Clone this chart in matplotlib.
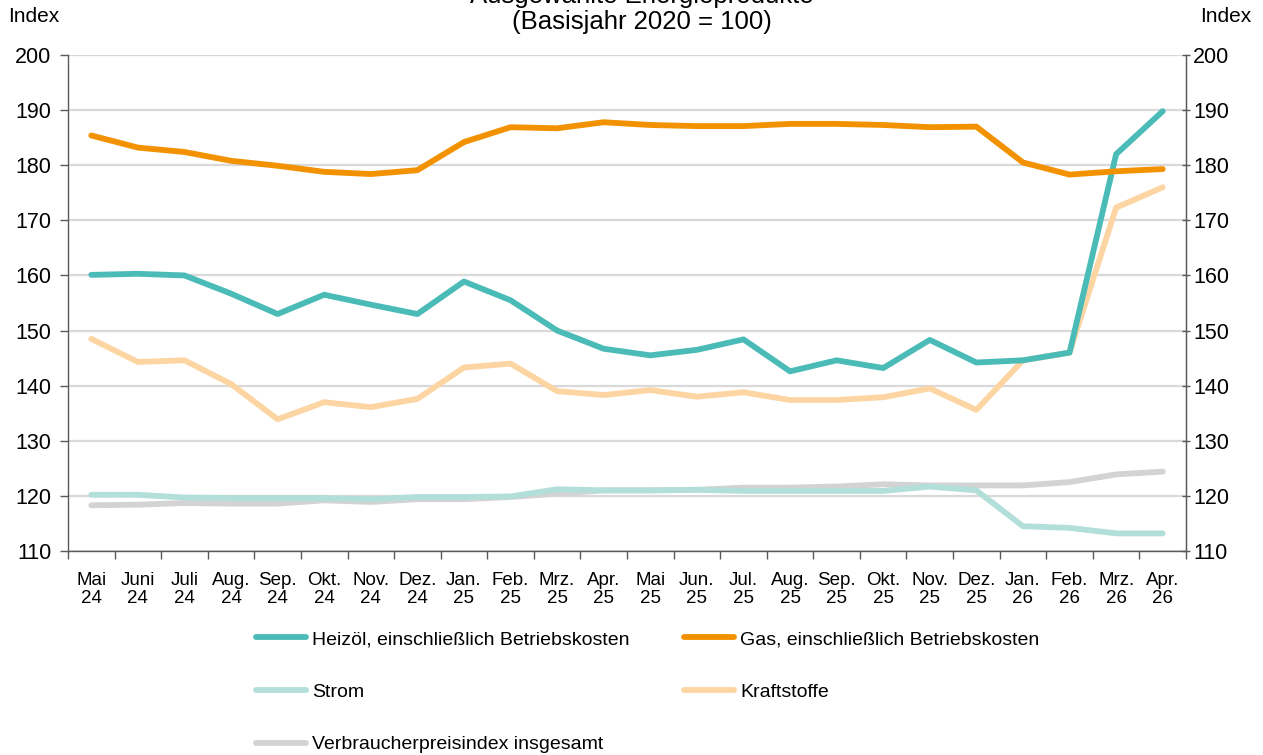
import matplotlib.pyplot as plt
from matplotlib.ticker import FixedLocator

plt.rcParams['font.family'] = ['Liberation Sans', 'DejaVu Sans']

# Monate Mai 24 bis Apr. 26
months = ['Mai\n24', 'Juni\n24', 'Juli\n24', 'Aug.\n24', 'Sep.\n24', 'Okt.\n24', 'Nov.\n24', 'Dez.\n24',
          'Jan.\n25', 'Feb.\n25', 'Mrz.\n25', 'Apr.\n25', 'Mai\n25', 'Jun.\n25', 'Jul.\n25', 'Aug.\n25',
          'Sep.\n25', 'Okt.\n25', 'Nov.\n25', 'Dez.\n25', 'Jan.\n26', 'Feb.\n26', 'Mrz.\n26', 'Apr.\n26']

heizoel = [160.1, 160.3, 160.0, 156.7, 153.0, 156.5, 154.7, 153.0, 158.9, 155.5, 150.0, 146.7,
           145.5, 146.5, 148.4, 142.6, 144.6, 143.2, 148.3, 144.2, 144.6, 146.0, 182.0, 189.8]
gas = [185.4, 183.2, 182.4, 180.8, 179.9, 178.8, 178.4, 179.1, 184.2, 186.9, 186.7, 187.8,
       187.3, 187.1, 187.1, 187.5, 187.5, 187.3, 186.9, 187.0, 180.5, 178.3, 178.9, 179.3]
strom = [120.2, 120.2, 119.7, 119.6, 119.6, 119.6, 119.4, 119.8, 119.8, 119.9, 121.2, 121.0,
         121.0, 121.1, 120.9, 120.9, 120.9, 120.9, 121.7, 121.0, 114.5, 114.2, 113.2, 113.2]
kraftstoffe = [148.5, 144.3, 144.6, 140.3, 133.9, 137.0, 136.1, 137.6, 143.3, 144.0, 139.0, 138.3,
               139.2, 138.0, 138.8, 137.4, 137.4, 137.9, 139.5, 135.6, 144.6, 146.0, 172.3, 176.0]
vpi = [118.3, 118.4, 118.7, 118.6, 118.6, 119.2, 118.9, 119.4, 119.4, 119.8, 120.4, 121.0,
       121.0, 121.1, 121.5, 121.5, 121.7, 122.1, 121.9, 121.9, 121.9, 122.5, 123.9, 124.4]

fig = plt.figure(figsize=(12.63, 7.55), dpi=100)
ax = fig.add_axes([68 / 1263, 1 - 551 / 755, 1118 / 1263, 496 / 755])

x = range(len(months))
lw = 4.2
l_vpi, = ax.plot(x, vpi, color='#D3D3D3', lw=lw, solid_capstyle='round', label='Verbraucherpreisindex insgesamt')
l_strom, = ax.plot(x, strom, color='#B3DFDB', lw=lw, solid_capstyle='round', label='Strom')
l_kraft, = ax.plot(x, kraftstoffe, color='#FDD5A3', lw=lw, solid_capstyle='round', label='Kraftstoffe')
l_heiz, = ax.plot(x, heizoel, color='#4BBBB7', lw=lw, solid_capstyle='round', label='Heizöl, einschließlich Betriebskosten')
l_gas, = ax.plot(x, gas, color='#F39200', lw=lw, solid_capstyle='round', label='Gas, einschließlich Betriebskosten')

ax.set_xlim(-0.5, len(months) - 0.5)
ax.set_ylim(110, 200)
ax.set_yticks(range(110, 201, 10))
ax.grid(axis='y', color='#D9D9D9', lw=1.6)
ax.set_axisbelow(True)

ax.set_xticks(list(x))
ax.set_xticklabels(months, fontsize=13.5, linespacing=1.1)
ax.xaxis.set_minor_locator(FixedLocator([i - 0.5 for i in range(len(months) + 1)]))
ax.tick_params(axis='x', which='major', length=0, pad=15)
ax.tick_params(axis='x', which='minor', length=6, color='#595959', width=1)
ax.tick_params(axis='y', labelsize=15.5, length=6, color='#595959', width=1, pad=6)

ax.spines['top'].set_visible(False)
for s in ['left', 'right', 'bottom']:
    ax.spines[s].set_color('#595959')
    ax.spines[s].set_linewidth(1)

ax2 = ax.twinx()
ax2.set_ylim(110, 200)
ax2.set_yticks(range(110, 201, 10))
ax2.tick_params(axis='y', labelsize=15.5, length=6, color='#595959', width=1, direction='inout', pad=2)
for s in ['top', 'left', 'bottom']:
    ax2.spines[s].set_visible(False)
ax2.spines['right'].set_color('#595959')

fig.text(8 / 1263, 1 - 17 / 755, 'Index', fontsize=15, ha='left', va='center')
fig.text(1251 / 1263, 1 - 17 / 755, 'Index', fontsize=15, ha='right', va='center')
fig.text(642 / 1263, 1 - 9 / 755, 'Ausgewählte Energieprodukte\n(Basisjahr 2020 = 100)',
         fontsize=18.5, ha='center', va='center', linespacing=1.1)

fig.legend(handles=[l_heiz, l_strom, l_vpi, l_gas, l_kraft], loc='upper left',
           bbox_to_anchor=(238 / 1263, 1 - 613 / 755), ncol=2, frameon=False,
           fontsize=14, handlelength=2.6, handletextpad=0.3, columnspacing=2.8,
           labelspacing=1.8)

fig.savefig('out.png', dpi=100)
